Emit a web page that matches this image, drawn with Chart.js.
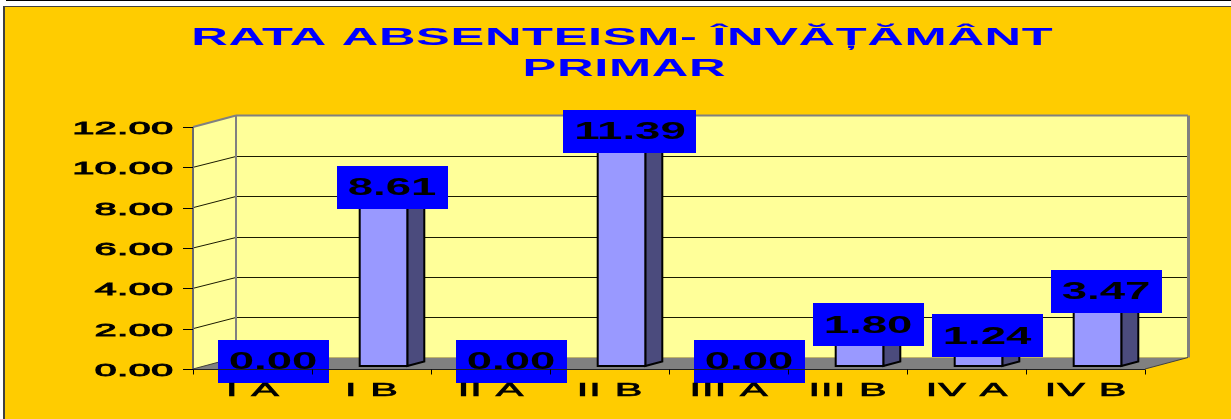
<!DOCTYPE html>
<html><head><meta charset="utf-8">
<script src="https://cdn.jsdelivr.net/npm/chart.js@4/dist/chart.umd.min.js"></script>
<style>html,body{margin:0;padding:0;background:#fff;overflow:hidden}canvas{display:block}</style>
</head><body>
<canvas id="c" width="1231" height="419"></canvas>
<script>
const titleLines = ['RATA ABSENTEISM- ÎNVĂȚĂMÂNT', 'PRIMAR'];
const categories = ['I A', 'I B', 'II A', 'II B', 'III A', 'III B', 'IV A', 'IV B'];
const absenteeism = [0.00, 8.61, 0.00, 11.39, 0.00, 1.80, 1.24, 3.47];
const yTickValues = [0, 2, 4, 6, 8, 10, 12];
const yTickLabels = ['0.00', '2.00', '4.00', '6.00', '8.00', '10.00', '12.00'];

const W = 1231, H = 419;
const FAM = '"Liberation Sans", Arial, sans-serif';
const DX = 43, DY = -11.5;      // depth of the plot box
const BX = 12, BY = -3;         // bar front plane offset
const SX = 17, SY = -4.5;       // bar depth

function sText(ctx, text, x, y, o) {
  ctx.save();
  ctx.font = o.font;
  const sp = o.spacing || 0;
  try { ctx.letterSpacing = sp + 'px'; } catch (e) {}
  ctx.fillStyle = o.color || '#000';
  ctx.textBaseline = o.baseline || 'alphabetic';
  ctx.textAlign = 'left';
  const w = (ctx.measureText(text).width - sp) * o.scale;
  let left = x;
  if (o.align === 'center') left = x - w / 2;
  else if (o.align === 'right') left = x - w;
  ctx.translate(left, y);
  ctx.scale(o.scale, 1);
  ctx.fillText(text, 0, 0);
  if (o.stroke) { ctx.lineWidth = o.stroke; ctx.strokeStyle = o.color || '#000'; ctx.strokeText(text, 0, 0); }
  ctx.restore();
  return w;
}
function poly(ctx, pts, fill, stroke, lw) {
  ctx.beginPath();
  pts.forEach((p, i) => i ? ctx.lineTo(p[0], p[1]) : ctx.moveTo(p[0], p[1]));
  ctx.closePath();
  if (fill) { ctx.fillStyle = fill; ctx.fill(); }
  if (stroke) { ctx.strokeStyle = stroke; ctx.lineWidth = lw || 1; ctx.lineJoin = 'miter'; ctx.stroke(); }
}
function line(ctx, x1, y1, x2, y2, col, lw) {
  ctx.beginPath(); ctx.moveTo(x1, y1); ctx.lineTo(x2, y2);
  ctx.strokeStyle = col; ctx.lineWidth = lw || 1; ctx.stroke();
}

const box3d = {
  id: 'box3d',
  beforeDraw(chart) {
    const { ctx, chartArea: a, scales: { y: ys } } = chart;
    ctx.save();
    ctx.fillStyle = '#fff'; ctx.fillRect(0, 0, W, H);
    ctx.fillStyle = '#000'; ctx.fillRect(6, 0, W - 6, 1);
    ctx.fillStyle = '#FFCC00'; ctx.fillRect(4, 6, W - 4, H - 6);
    ctx.fillStyle = '#404040'; ctx.fillRect(4, 6, W - 4, 1); ctx.fillRect(3, 6, 2, H - 6);

    const L = a.left, R = a.right;
    const y0 = ys.getPixelForValue(0), y12 = ys.getPixelForValue(12);
    poly(ctx, [[L, y12], [L + DX, y12 + DY], [L + DX, y0 + DY], [L, y0]], '#FFFF99');
    ctx.fillStyle = '#FFFF99';
    ctx.fillRect(L + DX, y12 + DY, R - L, y0 - y12);
    poly(ctx, [[L, y0], [L + DX, y0 + DY], [R + DX, y0 + DY], [R, y0]], '#808080');
    yTickValues.forEach(v => {
      if (v === 0 || v === 12) return;
      const yf = ys.getPixelForValue(v);
      const yb = Math.round(yf + DY) + 0.5;
      line(ctx, L + DX, yb, R + DX, yb, '#1a1a00', 1);
      line(ctx, L, yf, L + DX, yb, '#1a1a00', 1);
    });
    const yb12 = y12 + DY, yb0 = y0 + DY;
    line(ctx, L, y12, L + DX, yb12, '#808080', 2);
    line(ctx, L + DX, yb12, R + DX, yb12, '#808080', 2);
    line(ctx, R + DX + 0.5, yb12, R + DX + 0.5, yb0, '#808080', 3);
    line(ctx, L + DX, yb12, L + DX, yb0, '#808080', 2);
    line(ctx, L, y12, L, y0, '#6b6b6b', 2);
    line(ctx, L, y0, L + DX, yb0, '#404040', 1);
    line(ctx, R, y0, R + DX, yb0, '#404040', 1);
    yTickValues.forEach(v => {
      const yf = Math.round(ys.getPixelForValue(v)) + 0.5;
      line(ctx, L - 10, yf, L, yf, '#000', 1);
    });
    ctx.restore();
  },
  afterDatasetsDraw(chart) {
    const { ctx, chartArea: a, scales: { x: xs, y: ys } } = chart;
    const meta = chart.getDatasetMeta(0);
    ctx.save();
    meta.data.forEach((bar, i) => {
      const w = bar.width;
      const xl = bar.x - w / 2 + BX, xr = bar.x + w / 2 + BX;
      const yt = bar.y + BY, yb = bar.base + BY;
      if (yb - yt > 0.5) {
        poly(ctx, [[xr, yb], [xr + SX, yb + SY], [xr + SX, yt + SY], [xr, yt]], '#4B4B7D', '#000', 2);
        poly(ctx, [[xl, yt], [xr, yt], [xr + SX, yt + SY], [xl + SX, yt + SY]], '#B3B3FF', '#000', 2);
        poly(ctx, [[xl, yb], [xr, yb], [xr, yt], [xl, yt]], '#9999FF', '#000', 2);
      }
    });
    meta.data.forEach((bar, i) => {
      const txt = absenteeism[i].toFixed(2);
      const font = 'bold 23px ' + FAM;
      ctx.font = font;
      const tw = ctx.measureText(txt).width * 1.98;
      const bw = tw + 22, bh = 43;
      const cx = bar.x + BX + SX / 2;
      const cy = bar.y + BY - 5;
      ctx.fillStyle = '#0000FF';
      ctx.fillRect(Math.round(cx - bw / 2), Math.round(cy - bh / 2), Math.round(bw), bh);
      sText(ctx, txt, cx, cy + 8, { font, scale: 1.98, align: 'center', color: '#000' });
    });
    const y0 = Math.round(ys.getPixelForValue(0)) + 0.5;
    line(ctx, a.left, y0, a.right, y0, '#202020', 1);
    const cw = (a.right - a.left) / categories.length;
    for (let k = 0; k <= categories.length; k++) {
      const xk = Math.round(a.left + k * cw) + 0.5;
      line(ctx, xk, y0, xk, y0 + 5, '#000', 1);
    }
    yTickValues.forEach((v, i) => {
      const yf = ys.getPixelForValue(v);
      sText(ctx, yTickLabels[i], a.left - 20, yf + 7, { font: '17px ' + FAM, scale: 2.3, spacing: 0.3, align: 'right', color: '#000', stroke: 0.9 });
    });
    categories.forEach((c, i) => {
      const xc = xs.getPixelForValue(i);
      sText(ctx, c, xc, a.bottom + 27, { font: '18px ' + FAM, scale: 2.3, spacing: 0.5, align: 'center', color: '#000', stroke: 0.6 });
    });
    sText(ctx, titleLines[0], 622, 45, { font: 'bold 23px ' + FAM, scale: 2.2, spacing: 0.3, align: 'center', color: '#0000FF' });
    sText(ctx, titleLines[1], 624, 76, { font: 'bold 23px ' + FAM, scale: 2.2, spacing: 0.3, align: 'center', color: '#0000FF' });
    ctx.restore();
  }
};

new Chart(document.getElementById('c'), {
  type: 'bar',
  data: {
    labels: categories,
    datasets: [{
      data: absenteeism,
      backgroundColor: 'rgba(0,0,0,0)',
      borderWidth: 0,
      barPercentage: 0.4,
      categoryPercentage: 1.0
    }]
  },
  options: {
    responsive: false,
    devicePixelRatio: 1,
    animation: false,
    events: [],
    layout: { padding: { left: 193, right: 86, top: 127, bottom: 50 } },
    scales: {
      x: { display: false, offset: true },
      y: { display: false, min: 0, max: 12, ticks: { stepSize: 2 } }
    },
    plugins: { legend: { display: false }, title: { display: false }, tooltip: { enabled: false } }
  },
  plugins: [box3d]
});
</script>
</body></html>
